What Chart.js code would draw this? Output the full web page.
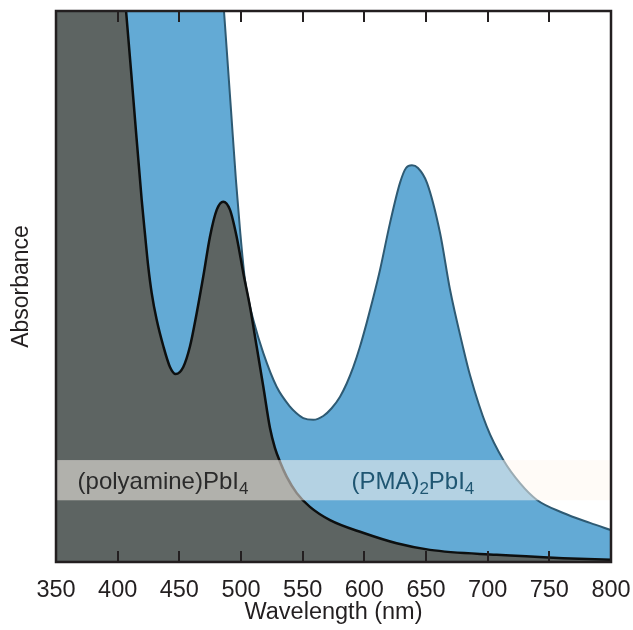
<!DOCTYPE html>
<html>
<head>
<meta charset="utf-8">
<script src="https://cdn.jsdelivr.net/npm/chart.js@4.4.1/dist/chart.umd.min.js"></script>
<style>
  html, body { margin: 0; padding: 0; background: #fff; }
  canvas { display: block; }
</style>
</head>
<body>
<canvas id="absChart" width="633" height="630"></canvas>
<script>
// x tick labels (nm)
var xTicks = [350, 400, 450, 500, 550, 600, 650, 700, 750, 800];

// (polyamine)PbI4 spectrum (arbitrary absorbance units)
var wlPolyamine = [350, 375, 395, 400, 406.8, 413.2, 419.5, 422.2, 424.8, 427.6, 431.6, 437, 442.4, 447.1,
  453.2, 458.6, 464.1, 469.4, 474.8, 480.3, 485.6, 491.1, 496.5, 501.9, 507.3, 512.7, 518.1,
  523.5, 527.5, 531.6, 537, 545.2, 555.9, 572.2, 598.9, 626.2, 653.2, 707.3, 761.1, 800];
var absPolyamine = [2.6, 1.9, 1.27, 1.154, 1.0, 0.827, 0.657, 0.594, 0.536, 0.488, 0.44, 0.392, 0.354, 0.341,
  0.354, 0.391, 0.452, 0.518, 0.59, 0.639, 0.654, 0.639, 0.59, 0.524, 0.463, 0.391, 0.318,
  0.243, 0.207, 0.182, 0.155, 0.125, 0.1, 0.076, 0.053, 0.034, 0.022, 0.013, 0.007, 0.004];

// (PMA)2PbI4 spectrum
var wlPMA = [350, 400, 450, 470, 481.4, 486.2, 491.9, 495.9, 499.2, 503.2, 506.5, 510, 518.1, 528.9,
  539.7, 545, 550.5, 558.6, 566.7, 573.5, 580.3, 585.7, 591.1, 596.5, 601.9, 606.8, 612.7, 620.8,
  628.9, 633.8, 638.6, 643.5, 650.8, 661.4, 669.5, 680, 685.7, 699.2, 712.7, 726.2, 739.7, 761.3, 783, 800];
var absPMA = [4.0, 3.0, 2.1, 1.5, 1.151, 1.0, 0.82, 0.693, 0.603, 0.512, 0.472, 0.439, 0.379, 0.318,
  0.282, 0.27, 0.261, 0.258, 0.265, 0.279, 0.3, 0.324, 0.354, 0.391, 0.434, 0.476, 0.53, 0.615,
  0.688, 0.715, 0.72, 0.715, 0.688, 0.597, 0.494, 0.39, 0.339, 0.246, 0.185, 0.143, 0.113, 0.089, 0.071, 0.058];

var FONT = "'Liberation Sans', Arial, Helvetica, sans-serif";
var INK = '#231f20';

// label band (in absorbance units) and label anchors (in nm)
var BAND_LOW = 0.112, BAND_HIGH = 0.185;
var LABEL1_AT = 367.5, LABEL2_AT = 589.5;

function toPoints(xs, ys) {
  return xs.map(function (v, i) { return { x: v, y: ys[i] }; });
}

function drawFormula(ctx, parts, x, y, color) {
  ctx.fillStyle = color;
  ctx.textBaseline = 'alphabetic';
  ctx.textAlign = 'left';
  parts.forEach(function (p) {
    var sub = p[1];
    ctx.font = (sub ? '17px ' : '24px ') + FONT;
    ctx.fillText(p[0], x, sub ? y + 5 : y);
    x += ctx.measureText(p[0]).width;
  });
}

var extras = {
  id: 'extras',
  afterDatasetsDraw: function (chart) {
    var ctx = chart.ctx, a = chart.chartArea;
    var xs = chart.scales.x, ys = chart.scales.y;
    ctx.save();
    // translucent label band
    var yTop = ys.getPixelForValue(BAND_HIGH), yBot = ys.getPixelForValue(BAND_LOW);
    ctx.fillStyle = 'rgba(255,247,240,0.52)';
    ctx.fillRect(a.left, yTop, a.right - a.left, yBot - yTop);
    var base = (yTop + yBot) / 2 + 9;
    drawFormula(ctx, [['(polyamine)PbI', false], ['4', true]], xs.getPixelForValue(LABEL1_AT), base, '#2b2b2b');
    drawFormula(ctx, [['(PMA)', false], ['2', true], ['PbI', false], ['4', true]], xs.getPixelForValue(LABEL2_AT), base, '#1f5672');

    // frame
    ctx.strokeStyle = INK;
    ctx.lineWidth = 2.5;
    ctx.strokeRect(a.left, a.top, a.right - a.left, a.bottom - a.top);

    // inward ticks, top and bottom
    ctx.lineWidth = 2;
    xTicks.forEach(function (t) {
      if (t === xs.min || t === xs.max) return;
      var px = Math.round(xs.getPixelForValue(t));
      ctx.beginPath();
      ctx.moveTo(px, a.bottom);
      ctx.lineTo(px, a.bottom - 11);
      ctx.moveTo(px, a.top);
      ctx.lineTo(px, a.top + 11);
      ctx.stroke();
    });
    ctx.restore();
  }
};

var ctx = document.getElementById('absChart').getContext('2d');
var chart = new Chart(ctx, {
  type: 'line',
  data: {
    datasets: [
      {
        label: '(polyamine)PbI4',
        data: toPoints(wlPolyamine, absPolyamine),
        borderColor: '#0d0f0f',
        borderWidth: 2.5,
        backgroundColor: '#5d6462',
        fill: 'origin',
        pointRadius: 0,
        cubicInterpolationMode: 'monotone',
        clip: 0
      },
      {
        label: '(PMA)2PbI4',
        data: toPoints(wlPMA, absPMA),
        borderColor: '#2e5a73',
        borderWidth: 2,
        backgroundColor: '#63aad5',
        fill: 'origin',
        pointRadius: 0,
        cubicInterpolationMode: 'monotone',
        clip: 0
      }
    ]
  },
  options: {
    responsive: false,
    animation: false,
    layout: { padding: { left: 0, right: 22, top: 11, bottom: 5.25 } },
    plugins: {
      legend: { display: false },
      tooltip: { enabled: false }
    },
    scales: {
      x: {
        type: 'linear',
        min: 350,
        max: 800,
        afterBuildTicks: function (axis) {
          axis.ticks = xTicks.map(function (v) { return { value: v }; });
        },
        ticks: { color: INK, font: { family: FONT, size: 23.5, lineHeight: 1 }, padding: 0, maxRotation: 0 },
        grid: { display: false, drawTicks: true, tickLength: 17.25 },
        border: { display: false },
        title: {
          display: true,
          text: 'Wavelength (nm)',
          color: INK,
          font: { family: FONT, size: 23.5, lineHeight: 1 },
          padding: { top: -1.5, bottom: 0 }
        }
      },
      y: {
        min: 0,
        max: 1,
        ticks: { display: false },
        grid: { display: false, drawTicks: false },
        border: { display: false },
        title: {
          display: true,
          text: 'Absorbance',
          color: INK,
          font: { family: FONT, size: 23 },
          padding: { top: 8.2, bottom: 20.2 }
        }
      }
    }
  },
  plugins: [extras]
});
</script>
</body>
</html>
